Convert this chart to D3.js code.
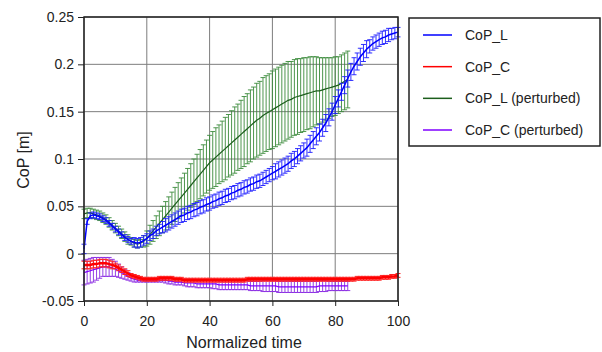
<!DOCTYPE html>
<html>
<head>
<meta charset="utf-8">
<script src="https://cdn.jsdelivr.net/npm/d3@7"></script>
<style>
  body { margin: 0; background: #fff; }
  text { font-family: "Liberation Sans", Arial, sans-serif; fill: #222; }
</style>
</head>
<body>
<div id="chart"></div>
<script>
// time axis (percent of cycle)
var timeFull = d3.range(0, 101);
var timePert = d3.range(0, 85);

var copLMean = [0.005,0.034,0.040,0.041,0.040,0.039,0.037,0.035,0.032,0.029,
  0.026,0.023,0.020,0.017,0.015,0.013,0.012,0.011,0.012,0.014,
  0.016,0.019,0.021,0.024,0.026,0.028,0.030,0.032,0.034,0.036,
  0.038,0.040,0.041,0.043,0.044,0.046,0.047,0.049,0.050,0.052,
  0.053,0.055,0.056,0.058,0.059,0.061,0.062,0.064,0.065,0.067,
  0.068,0.070,0.071,0.073,0.074,0.076,0.077,0.079,0.081,0.083,
  0.085,0.087,0.089,0.091,0.093,0.095,0.098,0.100,0.103,0.106,
  0.109,0.112,0.116,0.120,0.124,0.128,0.133,0.138,0.144,0.150,
  0.157,0.164,0.171,0.178,0.185,0.192,0.198,0.203,0.208,0.212,
  0.216,0.219,0.222,0.224,0.226,0.228,0.229,0.231,0.232,0.233,0.234];
var copLSd = [0.005,0.003,0.003,0.003,0.003,0.003,0.003,0.003,0.003,0.003,
  0.003,0.003,0.003,0.003,0.003,0.003,0.005,0.005,0.005,0.005,
  0.005,0.005,0.005,0.005,0.005,0.006,0.007,0.007,0.007,0.007,
  0.007,0.007,0.007,0.007,0.007,0.007,0.007,0.007,0.007,0.007,
  0.007,0.007,0.007,0.007,0.007,0.007,0.007,0.007,0.007,0.007,
  0.007,0.007,0.007,0.007,0.007,0.007,0.007,0.007,0.007,0.007,
  0.007,0.008,0.008,0.008,0.008,0.008,0.008,0.008,0.008,0.008,
  0.008,0.009,0.009,0.009,0.009,0.009,0.009,0.009,0.009,0.009,
  0.009,0.009,0.009,0.009,0.009,0.009,0.009,0.009,0.009,0.009,
  0.009,0.007,0.007,0.007,0.007,0.007,0.007,0.007,0.006,0.006,0.005];

var copCMean = [-0.012,-0.012,-0.012,-0.011,-0.011,-0.010,-0.010,-0.010,-0.011,-0.012,
  -0.013,-0.015,-0.017,-0.019,-0.021,-0.023,-0.024,-0.025,-0.026,-0.027,
  -0.027,-0.027,-0.027,-0.027,-0.026,-0.026,-0.026,-0.026,-0.026,-0.027,
  -0.027,-0.027,-0.028,-0.028,-0.028,-0.028,-0.028,-0.028,-0.028,-0.028,
  -0.028,-0.028,-0.028,-0.028,-0.028,-0.028,-0.028,-0.028,-0.028,-0.028,
  -0.028,-0.028,-0.027,-0.027,-0.027,-0.027,-0.027,-0.027,-0.027,-0.027,
  -0.027,-0.027,-0.027,-0.027,-0.027,-0.027,-0.027,-0.027,-0.027,-0.027,
  -0.027,-0.027,-0.027,-0.027,-0.027,-0.027,-0.027,-0.027,-0.027,-0.027,
  -0.027,-0.027,-0.027,-0.027,-0.027,-0.027,-0.027,-0.026,-0.026,-0.026,
  -0.026,-0.026,-0.026,-0.026,-0.026,-0.025,-0.025,-0.025,-0.024,-0.024,-0.023];
var copCSd = [0.004,0.004,0.004,0.004,0.004,0.004,0.004,0.004,0.004,0.004,
  0.003,0.003,0.003,0.003,0.003,0.002,0.002,0.002,0.002,0.002,
  0.002,0.002,0.002,0.002,0.002,0.002,0.002,0.002,0.002,0.002,
  0.002,0.002,0.002,0.002,0.002,0.002,0.002,0.002,0.002,0.002,
  0.002,0.002,0.002,0.002,0.002,0.002,0.002,0.002,0.002,0.002,
  0.002,0.002,0.002,0.002,0.002,0.002,0.002,0.002,0.002,0.002,
  0.002,0.002,0.002,0.002,0.002,0.002,0.002,0.002,0.002,0.002,
  0.002,0.002,0.002,0.002,0.002,0.002,0.002,0.002,0.002,0.002,
  0.002,0.002,0.002,0.002,0.002,0.002,0.002,0.002,0.002,0.002,
  0.002,0.002,0.002,0.002,0.002,0.002,0.002,0.002,0.002,0.002,0.002];

var copLPertMean = [0.042,0.043,0.043,0.042,0.041,0.040,0.038,0.036,0.033,0.030,
  0.027,0.024,0.021,0.018,0.015,0.013,0.011,0.010,0.011,0.013,
  0.016,0.020,0.024,0.028,0.032,0.036,0.040,0.044,0.048,0.052,
  0.056,0.060,0.064,0.068,0.072,0.076,0.080,0.084,0.088,0.092,
  0.096,0.099,0.102,0.105,0.108,0.111,0.114,0.117,0.120,0.123,
  0.126,0.129,0.132,0.135,0.138,0.141,0.143,0.146,0.148,0.150,
  0.152,0.154,0.156,0.158,0.160,0.162,0.163,0.165,0.166,0.167,
  0.168,0.169,0.170,0.171,0.172,0.172,0.173,0.174,0.175,0.176,
  0.177,0.178,0.180,0.182,0.184];
var copLPertSd = [0.005,0.005,0.005,0.005,0.005,0.005,0.005,0.005,0.005,0.005,
  0.005,0.005,0.005,0.005,0.005,0.004,0.004,0.004,0.004,0.006,
  0.008,0.010,0.011,0.012,0.013,0.014,0.015,0.016,0.017,0.018,
  0.019,0.020,0.021,0.022,0.023,0.024,0.025,0.026,0.027,0.028,
  0.029,0.030,0.031,0.031,0.032,0.033,0.033,0.034,0.035,0.035,
  0.036,0.037,0.037,0.038,0.038,0.039,0.039,0.040,0.040,0.040,
  0.041,0.041,0.041,0.041,0.041,0.041,0.040,0.040,0.040,0.039,
  0.039,0.038,0.038,0.037,0.036,0.035,0.034,0.033,0.032,0.031,
  0.031,0.030,0.030,0.030,0.030];

var copCPertMean = [-0.020,-0.019,-0.018,-0.017,-0.016,-0.015,-0.014,-0.014,-0.014,-0.015,
  -0.016,-0.018,-0.020,-0.022,-0.024,-0.026,-0.027,-0.028,-0.028,-0.028,
  -0.028,-0.028,-0.028,-0.028,-0.028,-0.028,-0.028,-0.029,-0.029,-0.030,
  -0.030,-0.030,-0.031,-0.031,-0.031,-0.031,-0.032,-0.032,-0.032,-0.032,
  -0.032,-0.032,-0.032,-0.033,-0.033,-0.033,-0.033,-0.033,-0.033,-0.033,
  -0.033,-0.033,-0.033,-0.034,-0.034,-0.034,-0.034,-0.034,-0.034,-0.034,
  -0.034,-0.034,-0.035,-0.035,-0.035,-0.035,-0.035,-0.035,-0.035,-0.035,
  -0.035,-0.035,-0.035,-0.035,-0.035,-0.034,-0.034,-0.034,-0.034,-0.034,
  -0.034,-0.034,-0.034,-0.034,-0.034];
var copCPertSd = [0.013,0.013,0.013,0.013,0.012,0.011,0.010,0.010,0.010,0.009,
  0.008,0.007,0.006,0.005,0.004,0.003,0.003,0.002,0.002,0.002,
  0.002,0.002,0.002,0.002,0.002,0.002,0.003,0.003,0.003,0.003,
  0.003,0.003,0.003,0.004,0.004,0.004,0.004,0.004,0.004,0.004,
  0.004,0.005,0.005,0.005,0.005,0.005,0.005,0.005,0.005,0.005,
  0.005,0.005,0.005,0.005,0.005,0.005,0.005,0.006,0.006,0.006,
  0.006,0.006,0.006,0.006,0.006,0.006,0.006,0.006,0.006,0.006,
  0.006,0.006,0.006,0.006,0.006,0.006,0.006,0.006,0.005,0.005,
  0.005,0.005,0.005,0.005,0.005];

var xTicks = [0, 20, 40, 60, 80, 100];
var yTicks = [-0.05, 0, 0.05, 0.1, 0.15, 0.2, 0.25];
var legendNames = ["CoP_L", "CoP_C", "CoP_L (perturbed)", "CoP_C (perturbed)"];

var width = 602, height = 352;
var plotLeft = 84, plotRight = 398, plotTop = 17, plotBottom = 301;

var svg = d3.select("#chart").append("svg")
  .attr("width", width).attr("height", height);

var xScale = d3.scaleLinear().domain([0, 100]).range([plotLeft, plotRight]);
var yScale = d3.scaleLinear().domain([-0.05, 0.25]).range([plotBottom, plotTop]);

// grid
svg.append("g").selectAll("line").data(xTicks).enter().append("line")
  .attr("x1", function (d) { return xScale(d); })
  .attr("x2", function (d) { return xScale(d); })
  .attr("y1", plotTop).attr("y2", plotBottom)
  .attr("stroke", "#7d7d7d").attr("stroke-width", 1);
svg.append("g").selectAll("line").data(yTicks).enter().append("line")
  .attr("x1", plotLeft).attr("x2", plotRight)
  .attr("y1", function (d) { return yScale(d); })
  .attr("y2", function (d) { return yScale(d); })
  .attr("stroke", "#7d7d7d").attr("stroke-width", 1);

function drawSeries(time, mean, sd, barColor, lineColor, lineWidth, barWidth) {
  var g = svg.append("g");
  time.forEach(function (t, i) {
    var x = xScale(t), y0 = yScale(mean[i] - sd[i]), y1 = yScale(mean[i] + sd[i]);
    g.append("line").attr("x1", x).attr("x2", x).attr("y1", y0).attr("y2", y1)
      .attr("stroke", barColor).attr("stroke-width", barWidth);
    [y0, y1].forEach(function (yy) {
      g.append("line").attr("x1", x - 2.5).attr("x2", x + 2.5).attr("y1", yy).attr("y2", yy)
        .attr("stroke", barColor).attr("stroke-width", barWidth);
    });
  });
  var line = d3.line()
    .x(function (d, i) { return xScale(time[i]); })
    .y(function (d) { return yScale(d); });
  g.append("path").datum(mean).attr("d", line)
    .attr("fill", "none").attr("stroke", lineColor).attr("stroke-width", lineWidth);
}

drawSeries(timePert, copLPertMean, copLPertSd, "#3a8a3a", "#1c5e1c", 1.2, 0.9);
drawSeries(timePert, copCPertMean, copCPertSd, "#8a2be2", "#7f00ff", 1.2, 0.9);
drawSeries(timeFull, copLMean, copLSd, "#1a1aff", "#0000ff", 1.5, 0.9);
drawSeries(timeFull, copCMean, copCSd, "#ff2020", "#ff0000", 2.5, 1);

// frame
svg.append("rect").attr("x", plotLeft).attr("y", plotTop)
  .attr("width", plotRight - plotLeft).attr("height", plotBottom - plotTop)
  .attr("fill", "none").attr("stroke", "#222").attr("stroke-width", 1.5);

// axes
var yAxis = d3.axisLeft(yScale).tickValues(yTicks).tickSize(6).tickSizeOuter(0)
  .tickFormat(function (d) { return String(d); });
var gy = svg.append("g").attr("transform", "translate(" + plotLeft + ",0)").call(yAxis);
gy.select(".domain").remove();
gy.selectAll("line").attr("stroke", "#222");
gy.selectAll("text").attr("font-size", 14).attr("x", -10)
  .style("font-family", "Liberation Sans, Arial, sans-serif").attr("fill", "#222");

var xAxis = d3.axisBottom(xScale).tickValues(xTicks).tickSize(5).tickSizeOuter(0);
var gx = svg.append("g").attr("transform", "translate(0," + plotBottom + ")").call(xAxis);
gx.select(".domain").remove();
gx.selectAll("line").attr("stroke", "#222");
gx.selectAll("text").attr("font-size", 14).attr("y", 15)
  .style("font-family", "Liberation Sans, Arial, sans-serif").attr("fill", "#222");

svg.append("text").attr("x", 244).attr("y", 348).attr("text-anchor", "middle")
  .attr("font-size", 16).text("Normalized time");
svg.append("text").attr("transform", "translate(29,160) rotate(-90)")
  .attr("text-anchor", "middle").attr("font-size", 16).text("CoP [m]");

// legend
var legendColors = ["#0000ff", "#ff0000", "#1c5e1c", "#7f00ff"];
var legend = svg.append("g");
legend.append("rect").attr("x", 409).attr("y", 18).attr("width", 191).attr("height", 128)
  .attr("fill", "#fff").attr("stroke", "#222").attr("stroke-width", 1.5);
var legendY = d3.scalePoint().domain(legendNames).range([35, 130]);
legendNames.forEach(function (name, i) {
  var y = legendY(name);
  legend.append("line").attr("x1", 423).attr("x2", 452).attr("y1", y).attr("y2", y)
    .attr("stroke", legendColors[i]).attr("stroke-width", 1.5);
  legend.append("text").attr("x", 465).attr("y", y + 5).attr("font-size", 14).text(name);
});
</script>
</body>
</html>
